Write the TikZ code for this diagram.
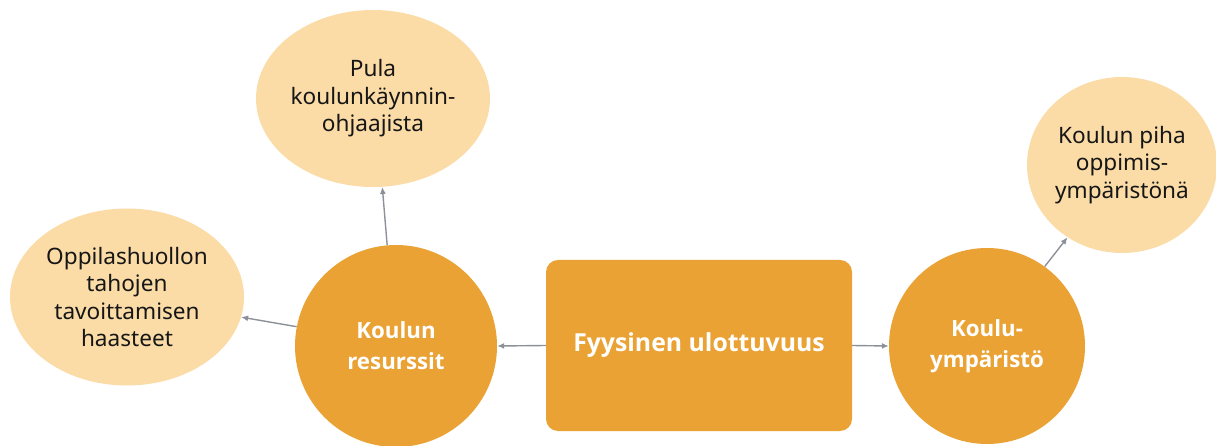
\documentclass[tikz,border=0pt]{standalone}
\usepackage{fontspec}
\setmainfont{Open Sans}
\newfontfamily\bodyfont{Noto Sans}
\usetikzlibrary{shapes.geometric,arrows.meta}
\definecolor{mainorange}{HTML}{E9A233}
\definecolor{lightpeach}{HTML}{FBDCA7}
\definecolor{linkgray}{HTML}{8C9098}
\definecolor{inkdark}{HTML}{161616}
\tikzset{
  hub/.style={circle, fill=mainorange, draw=none, inner sep=0pt,
    align=center, text=white, font=\fontsize{22.3}{31}\selectfont\bfseries},
  leaf/.style={ellipse, fill=lightpeach, draw=none, inner sep=0pt,
    align=center, text=inkdark, font=\bodyfont\fontsize{22.6}{27.5}\selectfont},
  core/.style={rectangle, rounded corners=12pt, fill=mainorange, draw=none,
    inner sep=0pt, align=center, text=white, font=\fontsize{24.8}{30}\selectfont\bfseries},
  link/.style={draw=linkgray, line width=1.4pt, -{Latex[length=7pt,width=6pt]}}
}
\begin{document}
\begin{tikzpicture}[x=1pt, y=-1pt]
  \useasboundingbox (0,0) rectangle (1216,446);

  % central dimension
  \node[core, minimum width=306pt, minimum height=171pt] (core) at (699,345.5)
    {Fyysinen ulottuvuus};

  % two main themes
  \node[hub, minimum size=202pt] (res) at (396,346) {Koulun\\resurssit};
  \node[hub, minimum size=196pt] (env) at (987,346) {Koulu-\\ympäristö};

  % sub-themes
  \node[leaf, minimum width=234pt, minimum height=177pt] (pula) at (373,98.5)
    {Pula\\koulunkäynnin-\\ohjaajista};
  \node[leaf, minimum width=234pt, minimum height=177pt] (opp) at (127,297)
    {Oppilashuollon\\tahojen\\tavoittamisen\\haasteet};
  \node[leaf, minimum width=190pt, minimum height=176pt] (piha) at (1122,165)
    {Koulun piha\\oppimis-\\ympäristönä};

  % connectors
  \draw[link] (core.west) -- (res.east);
  \draw[link] (core.east) -- (env.west);
  \draw[link] (res.95) -- (pula.-84);
  \draw[link] (res.169) -- (opp.-10);
  \draw[link] (env.54) -- (piha.-127);
\end{tikzpicture}
\end{document}
